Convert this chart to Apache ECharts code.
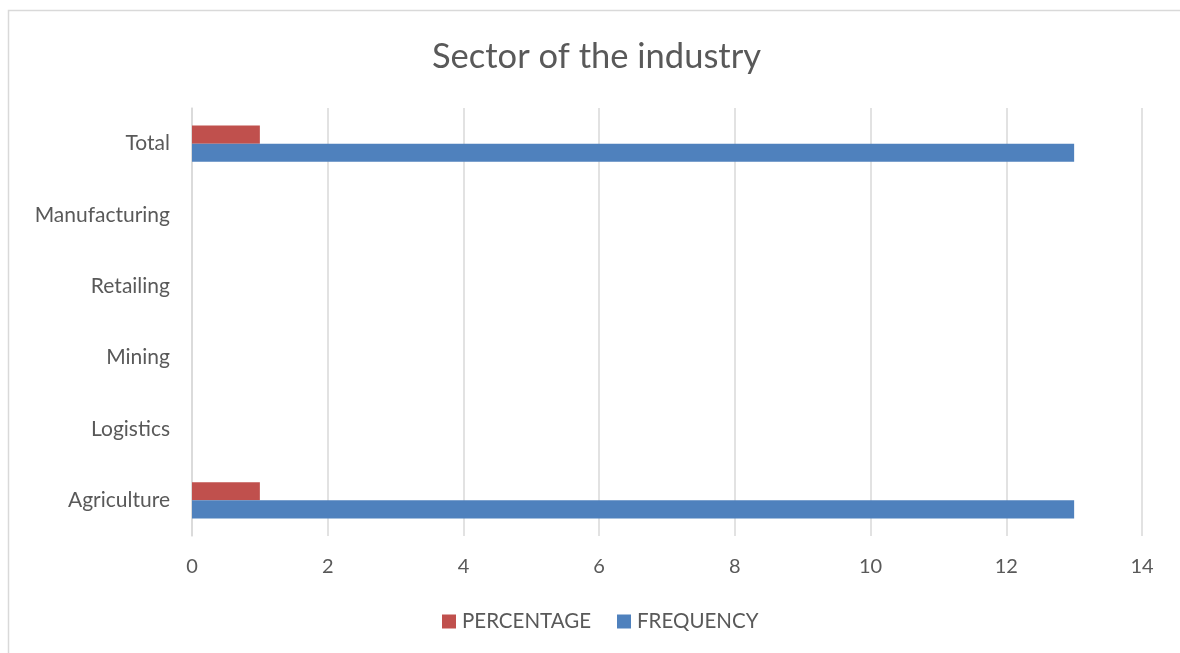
<!DOCTYPE html>
<html>
<head>
<meta charset="utf-8">
<script src="https://cdn.jsdelivr.net/npm/echarts@6/dist/echarts.min.js"></script>
<style>
html,body{margin:0;padding:0;background:#fff;}
#chart{width:1180px;height:653px;}
</style>
</head>
<body>
<div id="chart"></div>
<script>
const categories = ['Agriculture', 'Logistics', 'Mining', 'Retailing', 'Manufacturing', 'Total'];
const percentageValues = [1, 0, 0, 0, 0, 1];
const frequencyValues = [13, 0, 0, 0, 0, 13];
const xTicks = [0, 2, 4, 6, 8, 10, 12, 14];

const FONT = 'Lato';
const chart = echarts.init(document.getElementById('chart'), null, {renderer: 'canvas'});
chart.setOption({
  backgroundColor: '#fff',
  animation: false,
  graphic: [{
    type: 'rect',
    shape: {x: 8.5, y: 10.5, width: 1200, height: 700},
    style: {fill: 'none', stroke: '#d9d9d9', lineWidth: 1.5},
    silent: true
  }],
  title: {
    text: 'Sector of the industry',
    left: 427,
    top: 34,
    textStyle: {fontFamily: FONT, fontSize: 34.5, fontWeight: 'normal', color: '#595959'}
  },
  legend: {
    data: ['PERCENTAGE', 'FREQUENCY'],
    bottom: 16,
    left: 437,
    itemWidth: 14,
    itemHeight: 14,
    itemGap: 26,
    icon: 'rect',
    textStyle: {fontFamily: FONT, fontSize: 20.5, color: '#595959', padding: [0, 0, 0, 1]}
  },
  grid: {left: 192, right: 38, top: 108, bottom: 117, containLabel: false},
  xAxis: {
    type: 'value',
    min: 0, max: 14, interval: 2,
    axisLine: {show: false},
    axisTick: {show: false},
    axisLabel: {fontFamily: FONT, fontSize: 20, color: '#595959', margin: 21,
      formatter: function (v) { return xTicks.indexOf(v) >= 0 ? String(v) : ''; }},
    splitLine: {show: true, lineStyle: {color: '#d9d9d9', width: 1.5}}
  },
  yAxis: {
    type: 'category',
    data: categories,
    axisLine: {show: true, lineStyle: {color: '#d9d9d9', width: 1.5}},
    axisTick: {show: false},
    axisLabel: {fontFamily: FONT, fontSize: 21, color: '#595959', margin: 22}
  },
  series: [
    {
      name: 'PERCENTAGE', type: 'bar', data: percentageValues,
      itemStyle: {color: '#C0504D'},
      barGap: '0%', barCategoryGap: '49%'
    },
    {
      name: 'FREQUENCY', type: 'bar', data: frequencyValues,
      itemStyle: {color: '#4F81BD'},
      barGap: '0%', barCategoryGap: '49%'
    }
  ]
});
</script>
</body>
</html>
